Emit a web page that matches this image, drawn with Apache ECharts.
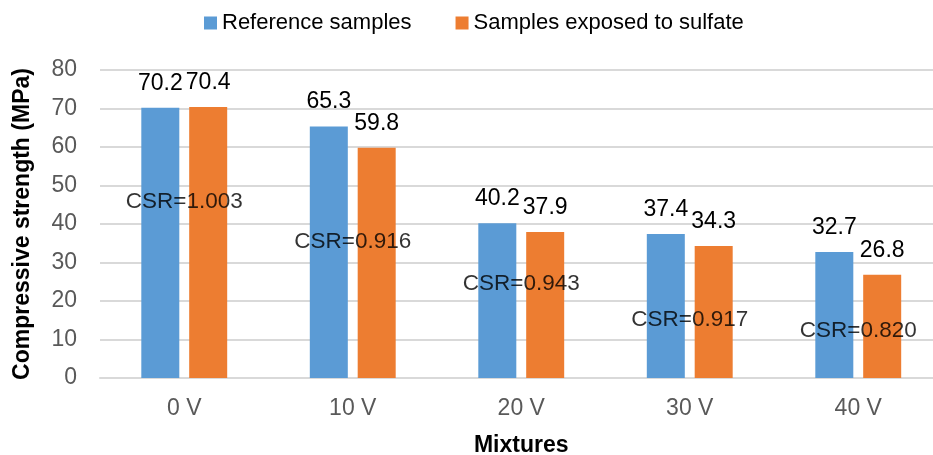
<!DOCTYPE html>
<html>
<head>
<meta charset="utf-8">
<script src="https://cdn.jsdelivr.net/npm/echarts@6/dist/echarts.min.js"></script>
<style>
html,body{margin:0;padding:0;background:#fff;overflow:hidden;width:933px;height:455px;}
#chart{width:945px;height:455px;}
</style>
</head>
<body>
<div id="chart"></div>
<script>
// ---- data ----
var categories = ['0 V', '10 V', '20 V', '30 V', '40 V'];
var referenceSamples = [70.2, 65.3, 40.2, 37.4, 32.7];
var sulfateSamples = [70.4, 59.8, 37.9, 34.3, 26.8];
var csrValues = ['1.003', '0.916', '0.943', '0.917', '0.820'];
var yTicks = [0, 10, 20, 30, 40, 50, 60, 70, 80];

// ---- annotation anchors (layout, in axis units) ----
var csrAnchorY = [45.8, 35.4, 24.4, 15.2, 12.3];

var FONT = "'Liberation Sans', Arial, sans-serif";
var chart = echarts.init(document.getElementById('chart'), null, {renderer: 'canvas'});

var csrData = categories.map(function (c, i) { return [i, csrAnchorY[i], csrValues[i]]; });

chart.setOption({
  animation: false,
  backgroundColor: '#ffffff',
  textStyle: {fontFamily: FONT},
  legend: {
    data: ['Reference samples', 'Samples exposed to sulfate'],
    left: 199,
    top: 7,
    itemWidth: 13,
    itemHeight: 13,
    itemGap: 44,
    icon: 'rect',
    textStyle: {fontFamily: FONT, fontSize: 22, color: '#000', padding: [0, 0, 0, 0]}
  },
  grid: {left: 100, top: 70, width: 842.5, height: 308, containLabel: false, outerBoundsMode: 'none'},
  xAxis: {
    type: 'category',
    data: categories,
    axisTick: {show: false},
    axisLine: {show: true, lineStyle: {color: '#d9d9d9', width: 2}},
    axisLabel: {fontFamily: FONT, fontSize: 23, color: '#595959', margin: 19},
    name: 'Mixtures',
    nameLocation: 'middle',
    nameGap: 56,
    nameTextStyle: {fontFamily: FONT, fontSize: 23, fontWeight: 'bold', color: '#000'}
  },
  yAxis: {
    type: 'value',
    min: yTicks[0],
    max: yTicks[yTicks.length - 1],
    interval: yTicks[1] - yTicks[0],
    axisLine: {show: false},
    axisTick: {show: false},
    splitLine: {show: true, lineStyle: {color: '#d9d9d9', width: 2}},
    axisLabel: {fontFamily: FONT, fontSize: 23, color: '#595959', margin: 23},
    name: 'Compressive strength (MPa)',
    nameLocation: 'middle',
    nameGap: 66,
    nameTextStyle: {fontFamily: FONT, fontSize: 23, fontWeight: 'bold', color: '#000'}
  },
  series: [
    {
      name: 'Reference samples',
      type: 'bar',
      data: referenceSamples,
      barWidth: 38,
      barGap: '26%',
      itemStyle: {color: '#5B9BD5'},
      label: {show: true, position: 'top', distance: 13, fontFamily: FONT, fontSize: 23, color: '#000'}
    },
    {
      name: 'Samples exposed to sulfate',
      type: 'bar',
      data: sulfateSamples,
      barWidth: 38,
      barGap: '26%',
      itemStyle: {color: '#ED7D31'},
      label: {show: true, position: 'top', distance: 13, fontFamily: FONT, fontSize: 23, color: '#000'}
    },
    {
      name: 'CSR',
      type: 'scatter',
      data: csrData,
      symbol: 'circle',
      symbolSize: 2,
      itemStyle: {color: 'rgba(0,0,0,0)'},
      z: 10,
      silent: true,
      label: {
        show: true,
        position: 'inside',
        fontFamily: FONT,
        fontSize: 22.5,
        color: '#000',
        formatter: function (p) { return 'CSR=' + p.data[2]; }
      }
    }
  ]
});
</script>
</body>
</html>
